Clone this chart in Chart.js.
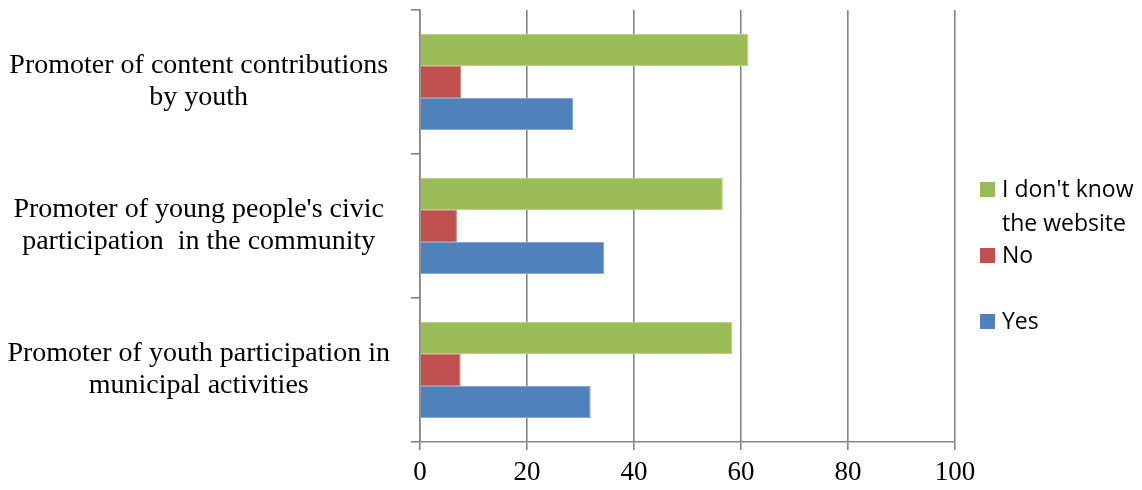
<!DOCTYPE html>
<html>
<head>
<meta charset="utf-8">
<script src="https://cdn.jsdelivr.net/npm/chart.js@4/dist/chart.umd.min.js"></script>
<style>
    body { margin: 0; background: #fff; }
    #wrap { position: relative; width: 1142px; height: 490px; }
    #legend { position: absolute; left: 980px; top: 0; font-family: 'Open Sans', sans-serif; font-size: 23px; color: #000; }
    .leg-item { position: absolute; left: 0; width: 170px; line-height: 34px; }
    .leg-box { position: absolute; left: 0; width: 15px; height: 15px; }
    .leg-text { position: absolute; left: 22px; width: 150px; }
</style>
</head>
<body>
<div id="wrap">
    <canvas id="chart" width="1142" height="490"></canvas>
    <div id="legend"></div>
</div>
<script>
const categories = [
    ["Promoter of content contributions", "by youth"],
    ["Promoter of young people's civic", "participation  in the community"],
    ["Promoter of youth participation in", "municipal activities"]
];
const dontKnow = [61.4, 56.6, 58.4];
const noValues = [7.7, 6.9, 7.6];
const yesValues = [28.6, 34.4, 31.9];
const xTicks = [0, 20, 40, 60, 80, 100];

const series = [
    { label: "I don't know the website", data: dontKnow, color: "#9BBB59", border: "#b9d08a" },
    { label: "No", data: noValues, color: "#C0504D", border: "#d47e7c" },
    { label: "Yes", data: yesValues, color: "#4F81BD", border: "#84a7d2" }
];

const serif = "'Liberation Serif', 'Times New Roman', serif";

new Chart(document.getElementById("chart"), {
    type: "bar",
    data: {
        labels: categories,
        datasets: series.map(s => ({
            label: s.label,
            data: s.data,
            backgroundColor: s.color,
            borderColor: s.border,
            borderWidth: 1,
            categoryPercentage: 0.667,
            barPercentage: 1
        }))
    },
    options: {
        indexAxis: "y",
        responsive: false,
        animation: false,
        layout: { padding: { top: 10, right: 187, bottom: 0, left: 0 } },
        plugins: { legend: { display: false }, tooltip: { enabled: false } },
        scales: {
            x: {
                min: 0,
                max: 100,
                afterBuildTicks: axis => { axis.ticks = xTicks.map(v => ({ value: v })); },
                afterFit: axis => { axis.height = 48; },
                grid: { color: "#858585", lineWidth: 1.6, tickLength: 8 },
                border: { color: "#858585", width: 1.6 },
                ticks: { color: "#000", padding: 7, font: { family: serif, size: 27 } }
            },
            y: {
                offset: true,
                afterFit: axis => {
                    axis.width = 420;
                    axis.paddingTop = 0;
                    axis.paddingBottom = 0;
                },
                grid: { offset: true, drawOnChartArea: false, color: "#858585", lineWidth: 1.6, tickLength: 9 },
                border: { color: "#858585", width: 1.6 },
                ticks: {
                    color: "#000",
                    crossAlign: "center",
                    padding: 21,
                    font: { family: serif, size: 28, lineHeight: 1.14 }
                }
            }
        }
    }
});

// legend built from the series
const legendTops = [171, 237, 303];
const legend = document.getElementById("legend");
legend.innerHTML = series.map((s, i) => `
    <div class="leg-item" style="top:${legendTops[i]}px">
        <span class="leg-box" style="background:${s.color};top:11px"></span>
        <span class="leg-text">${s.label}</span>
    </div>
`).join("");
</script>
</body>
</html>
